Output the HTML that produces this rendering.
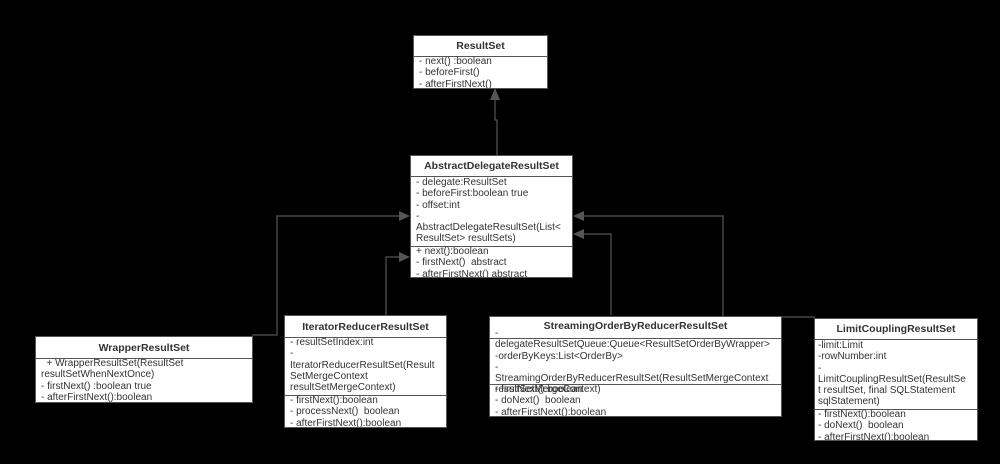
<!DOCTYPE html>
<html><head><meta charset="utf-8"><style>
html,body{margin:0;padding:0;background:#000;}
#c{position:relative;width:1000px;height:464px;background:#000;overflow:hidden;font-family:"Liberation Sans",sans-serif;font-size:10px;color:#333;}
.b{position:absolute;background:#fff;border:1px solid #555;box-sizing:border-box;overflow:hidden;}
.h{position:absolute;left:0;right:0;text-align:center;font-weight:bold;font-size:10.5px;color:#333;}
.d{position:absolute;left:0;right:0;height:0;border-top:1px solid #555;}
.t{position:absolute;left:5px;white-space:nowrap;line-height:11.3px;}
svg{position:absolute;left:0;top:0;}
</style></head><body><div id="c">
<svg width="1000" height="464">
<g stroke="#555" stroke-width="1.2" fill="none">
<polyline points="497,155 497,120 495,120 495,96"/>
<polyline points="252,335 277,335 277,216 402,216"/>
<polyline points="386,315 386,257 402,257"/>
<polyline points="611,315 611,234 580,234"/>
<polyline points="815,317 723,317 723,216 580,216"/>
</g>
<g fill="#555">
<polygon points="495,88 490,100 500,100"/>
<polygon points="410,216 399,211 399,221"/>
<polygon points="410,257 399,252 399,262"/>
<polygon points="573,234 584,229 584,239"/>
<polygon points="573,216 584,211 584,221"/>
</g>
</svg>

<div class="b" style="left:413px;top:35px;width:135px;height:54px">
<div class="h" style="top:4px">ResultSet</div>
<div class="d" style="top:20px"></div>
<div class="t" style="top:20px">- next() :boolean<br>- beforeFirst()<br>- afterFirstNext()</div>
</div>

<div class="b" style="left:410px;top:155px;width:163px;height:123px">
<div class="h" style="top:4px">AbstractDelegateResultSet</div>
<div class="d" style="top:20px"></div>
<div class="t" style="top:21px">- delegate:ResultSet<br>- beforeFirst:boolean true<br>- offset:int<br>-<br>AbstractDelegateResultSet(List&lt;<br>ResultSet&gt; resultSets)</div>
<div class="d" style="top:90px"></div>
<div class="t" style="top:90px">+ next():boolean<br>- firstNext()&nbsp; abstract<br>- afterFirstNext() abstract</div>
</div>

<div class="b" style="left:35px;top:336px;width:218px;height:67px">
<div class="h" style="top:5px">WrapperResultSet</div>
<div class="d" style="top:21px"></div>
<div class="t" style="top:21px">&nbsp; + WrapperResultSet(ResultSet<br>resultSetWhenNextOnce)<br>- firstNext() :boolean true<br>- afterFirstNext():boolean</div>
</div>

<div class="b" style="left:284px;top:315px;width:163px;height:113px">
<div class="h" style="top:5px">IteratorReducerResultSet</div>
<div class="d" style="top:21px"></div>
<div class="t" style="top:21px">- resultSetIndex:int<br>-<br>IteratorReducerResultSet(Result<br>SetMergeContext<br>resultSetMergeContext)</div>
<div class="d" style="top:79px"></div>
<div class="t" style="top:79px">- firstNext():boolean<br>- processNext()&nbsp; boolean<br>- afterFirstNext():boolean</div>
</div>

<div class="b" style="left:489px;top:316px;width:293px;height:101px">
<div class="h" style="top:3px">StreamingOrderByReducerResultSet</div>
<div class="t" style="top:11px">-<br>delegateResultSetQueue:Queue&lt;ResultSetOrderByWrapper&gt;<br>-orderByKeys:List&lt;OrderBy&gt;<br>-<br>StreamingOrderByReducerResultSet(ResultSetMergeContext<br>resultSetMergeContext)</div>
<div class="d" style="top:21px"></div>
<div class="d" style="top:67px"></div>
<div class="t" style="top:67px">- firstNext():boolean<br>- doNext()&nbsp; boolean<br>- afterFirstNext():boolean</div>
</div>

<div class="b" style="left:814px;top:318px;width:164px;height:123px">
<div class="h" style="top:4px">LimitCouplingResultSet</div>
<div class="d" style="top:20px"></div>
<div class="t" style="top:21px;left:3px">-limit:Limit<br>-rowNumber:int<br>-<br>LimitCouplingResultSet(ResultSe<br>t resultSet, final SQLStatement<br>sqlStatement)</div>
<div class="d" style="top:90px"></div>
<div class="t" style="top:90px;left:3px">- firstNext():boolean<br>- doNext()&nbsp; boolean<br>- afterFirstNext():boolean</div>
</div>
</div></body></html>
